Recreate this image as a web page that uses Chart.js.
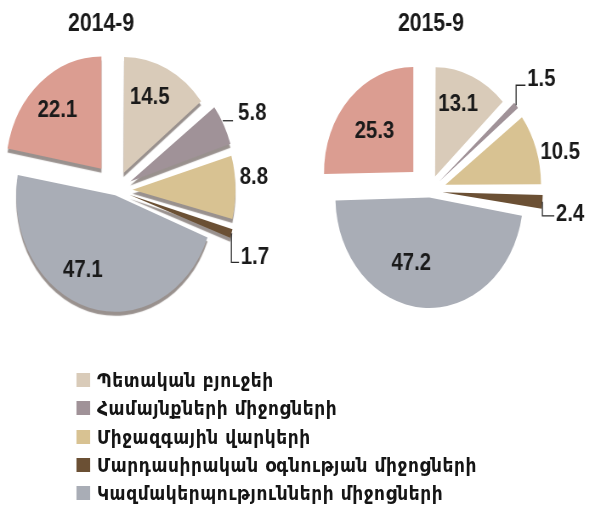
<!DOCTYPE html>
<html lang="hy">
<head>
<meta charset="utf-8">
<title>2014-9 / 2015-9</title>
<script src="https://cdn.jsdelivr.net/npm/chart.js@4.4.1/dist/chart.umd.min.js"></script>
<style>
  html, body { margin: 0; padding: 0; background: #fff; }
  body { width: 592px; height: 507px; overflow: hidden; }
  /* the source picture is squeezed sideways, so the whole page is drawn wider and scaled */
  #page { position: relative; width: 696px; height: 507px; transform: scaleX(0.85); transform-origin: 0 0; }
  #page canvas { position: absolute; top: 0; }
  #left { left: 0; }
  #right { left: 348px; }
  #legend { position: absolute; left: 90px; top: 366px; margin: 0; padding: 0; list-style: none;
            font-family: "DejaVu Sans", sans-serif; font-size: 20px; font-weight: bold;
            letter-spacing: 0.7px; color: #151515; }
  #legend li { height: 28.3px; line-height: 28.3px; white-space: nowrap; }
  #legend span { display: inline-block; width: 16px; height: 14px; margin-right: 8px; vertical-align: 0px; }
</style>
</head>
<body>
<div id="page">
  <canvas id="left" width="348" height="360"></canvas>
  <canvas id="right" width="348" height="360"></canvas>
  <ul id="legend"></ul>
</div>
<script>
// data
const periods = ["2014-9", "2015-9"];
const categories = [
  "Պետական բյուջեի",
  "Համայնքների միջոցների",
  "Միջազգային վարկերի",
  "Մարդասիրական օգնության միջոցների",
  "Կազմակերպությունների միջոցների",
  "Այլ"
];
const values2014 = [14.5, 5.8, 8.8, 1.7, 47.1, 22.1];
const values2015 = [13.1, 1.5, 10.5, 2.4, 47.2, 25.3];
const legendCount = 5; // the last share has no legend entry

// colours, same order as categories
const colors = ["#d9cbb9", "#a09298", "#d8c292", "#6b5034", "#a9adb6", "#db9d91"];

const fontFamily = '"Liberation Sans", Arial, sans-serif';
const labelFont = "bold 24px " + fontFamily;

// how far each slice is pulled out (px)
function offsetFor(shifts) {
  return ctx => {
    const data = ctx.dataset.data;
    const total = data.reduce((a, b) => a + b, 0);
    const circ = data[ctx.dataIndex] / total * 2 * Math.PI;
    const fix = 1 - Math.sin(Math.min(Math.PI, circ));
    return 4 * shifts[ctx.dataIndex] / (1 + fix); // chart.js moves an arc by offset/4*(1+fix)
  };
}

function arcShift(arc) {
  const fix = 1 - Math.sin(Math.min(Math.PI, arc.circumference));
  return (arc.options.offset || 0) / 4 * (1 + fix);
}

// value labels: inside the slice or outside with a small leader line
const sliceLabels = {
  id: "sliceLabels",
  beforeDatasetsDraw(chart, args, opts) {
    // a dark rim under the slices (the 2014 pie is drawn with some depth)
    chart.ctx.save();
    if (opts.depth) {
      chart.ctx.shadowColor = "rgba(70, 55, 50, 0.55)";
      chart.ctx.shadowOffsetY = opts.depth;
      chart.ctx.shadowBlur = 1;
    }
  },
  afterDatasetsDraw(chart, args, opts) {
    const ctx = chart.ctx;
    ctx.restore();
    const meta = chart.getDatasetMeta(0);
    const data = chart.data.datasets[0].data;
    ctx.save();
    ctx.font = labelFont;
    ctx.fillStyle = "#1a1a1a";
    ctx.strokeStyle = "#2a2a2a";
    ctx.lineWidth = 1.3;
    meta.data.forEach((arc, i) => {
      const p = arc.getProps(["x", "y", "startAngle", "endAngle", "outerRadius"], true);
      const spec = opts.spec[i];
      const mid = (p.startAngle + p.endAngle) / 2;
      const s = arcShift(arc);
      const text = data[i].toFixed(1);
      const out = { x: p.x + Math.cos(mid) * (s + p.outerRadius), y: p.y + Math.sin(mid) * (s + p.outerRadius) };
      if (spec.type === "in") {
        // text sits along a slightly turned ray, part way out
        const a = mid + (spec.turn || 0) * Math.PI / 180;
        const r = p.outerRadius * spec.at;
        ctx.textAlign = "center";
        ctx.textBaseline = "middle";
        ctx.fillText(text, p.x + Math.cos(mid) * s + Math.cos(a) * r, p.y + Math.sin(mid) * s + Math.sin(a) * r);
        return;
      }
      ctx.textAlign = "left";
      if (spec.type === "out") {
        ctx.textBaseline = "middle";
        ctx.fillText(text, out.x + 5, out.y + spec.dy);
      } else if (spec.type === "line") {
        const y = out.y - 4;
        ctx.beginPath();
        ctx.moveTo(out.x - 1, y);
        ctx.lineTo(out.x + 11, y);
        ctx.stroke();
        ctx.textBaseline = "alphabetic";
        ctx.fillText(text, out.x + 17, y - 1);
      } else if (spec.type === "down" || spec.type === "up") {
        const ey = spec.type === "down" ? out.y + spec.drop : out.y - spec.drop;
        ctx.beginPath();
        ctx.moveTo(out.x, out.y);
        ctx.lineTo(out.x, ey);
        ctx.lineTo(out.x + spec.run, ey);
        ctx.stroke();
        ctx.textBaseline = "alphabetic";
        ctx.fillText(text, out.x + spec.run + 2, ey + spec.base);
      }
    });
    ctx.restore();
  }
};

function makePie(id, title, values, opt) {
  return new Chart(document.getElementById(id), {
    type: "pie",
    data: {
      labels: categories,
      datasets: [{
        data: values,
        backgroundColor: colors,
        borderWidth: 0,
        radius: opt.radius,
        cutout: "0%",
        offset: offsetFor(opt.shifts),
        hoverOffset: 0
      }]
    },
    options: {
      responsive: false,
      devicePixelRatio: 1,
      animation: false,
      events: [],
      layout: { padding: opt.padding },
      plugins: {
        legend: { display: false },
        tooltip: { enabled: false },
        title: {
          display: true,
          text: title,
          align: opt.titleAlign,
          color: "#1a1a1a",
          font: { family: fontFamily, size: 25, weight: "bold" },
          padding: { top: 9, bottom: 0 }
        },
        sliceLabels: { spec: opt.labels, depth: opt.depth }
      }
    },
    plugins: [sliceLabels]
  });
}

makePie("left", periods[0], values2014, {
  radius: 112,
  shifts: [23, 30, 28, 30, 10, 28],
  padding: { left: 80, right: 154, top: 0, bottom: 19 },
  titleAlign: "start",
  depth: 4,
  labels: [
    { type: "in", at: 0.69, turn: -4 },
    { type: "line" },
    { type: "out", dy: -10 },
    { type: "down", drop: 29, run: 9, base: 2 },
    { type: "in", at: 0.71, turn: 12 },
    { type: "in", at: 0.69, turn: -2 }
  ]
});

makePie("right", periods[1], values2015, {
  radius: 105,
  shifts: [20, 28, 27, 28, 12, 27],
  padding: { left: 117, right: 150, top: 0, bottom: 17 },
  titleAlign: "end",
  depth: 0,
  labels: [
    { type: "in", at: 0.69, turn: -3 },
    { type: "up", drop: 20, run: 11, base: 1 },
    { type: "out", dy: 3 },
    { type: "down", drop: 14, run: 14, base: 5 },
    { type: "in", at: 0.61, turn: 15 },
    { type: "in", at: 0.58, turn: -3 }
  ]
});

// legend under both pies
const legend = document.getElementById("legend");
categories.slice(0, legendCount).forEach((name, i) => {
  const li = document.createElement("li");
  const box = document.createElement("span");
  box.style.background = colors[i];
  li.appendChild(box);
  li.appendChild(document.createTextNode(name));
  legend.appendChild(li);
});
</script>
</body>
</html>
